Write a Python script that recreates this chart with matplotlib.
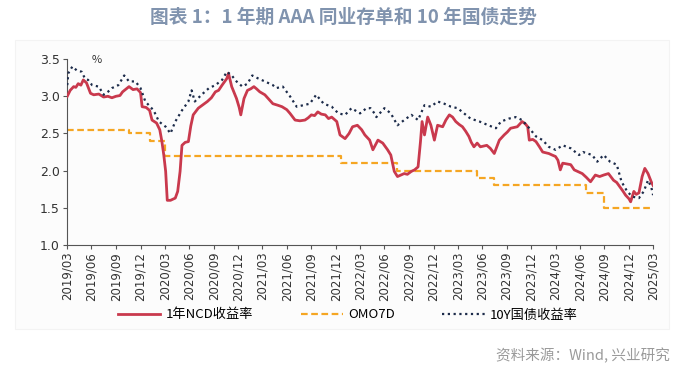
import matplotlib
matplotlib.use("Agg")
import matplotlib.pyplot as plt
import matplotlib.patches as patches
import pandas as pd

plt.rcParams['font.family'] = ['Noto Sans CJK SC', 'DejaVu Sans']

# 1Y AAA NCD yield (%)
ncd_dates = [
    "2019-04-01", "2019-04-12", "2019-04-25", "2019-05-03", "2019-05-12", "2019-05-22", "2019-05-31",
    "2019-06-12", "2019-06-27", "2019-07-09", "2019-07-28", "2019-08-15", "2019-08-31", "2019-09-15",
    "2019-09-30", "2019-10-15", "2019-10-25", "2019-11-08", "2019-11-18", "2019-12-03", "2019-12-18",
    "2019-12-31", "2020-01-06", "2020-01-21", "2020-02-03", "2020-02-12", "2020-02-29", "2020-03-12",
    "2020-03-20", "2020-03-27", "2020-04-03", "2020-04-09", "2020-04-21", "2020-05-09", "2020-05-18",
    "2020-05-27", "2020-06-03", "2020-06-15", "2020-06-27", "2020-07-06", "2020-07-15", "2020-08-03",
    "2020-08-18", "2020-09-06", "2020-09-21", "2020-10-06", "2020-10-18", "2020-10-31", "2020-11-18",
    "2020-11-24", "2020-12-06", "2020-12-24", "2021-01-03", "2021-01-09", "2021-01-21", "2021-02-03",
    "2021-02-15", "2021-02-27", "2021-03-09", "2021-03-21", "2021-04-09", "2021-04-24", "2021-05-09",
    "2021-05-27", "2021-06-12", "2021-06-21", "2021-06-30", "2021-07-12", "2021-07-31", "2021-08-18",
    "2021-09-06", "2021-09-18", "2021-09-30", "2021-10-12", "2021-10-24", "2021-11-06", "2021-11-21",
    "2021-12-03", "2021-12-15", "2022-01-03", "2022-01-15", "2022-02-03", "2022-02-18", "2022-03-03",
    "2022-03-21", "2022-04-06", "2022-04-18", "2022-05-06", "2022-05-18", "2022-06-06", "2022-06-24",
    "2022-07-12", "2022-07-24", "2022-08-06", "2022-08-18", "2022-08-31", "2022-09-12", "2022-09-24",
    "2022-10-09", "2022-10-21", "2022-11-03", "2022-11-12", "2022-11-18", "2022-11-27", "2022-12-09",
    "2022-12-21", "2023-01-03", "2023-01-15", "2023-02-03", "2023-02-15", "2023-02-28", "2023-03-12",
    "2023-03-24", "2023-04-06", "2023-04-18", "2023-04-30", "2023-05-12", "2023-05-21", "2023-05-31",
    "2023-06-12", "2023-06-24", "2023-07-06", "2023-07-18", "2023-07-31", "2023-08-15", "2023-09-03",
    "2023-09-21", "2023-10-03", "2023-10-15", "2023-10-27", "2023-11-09", "2023-11-27", "2023-12-09",
    "2023-12-18", "2023-12-24", "2024-01-06", "2024-01-18", "2024-01-31", "2024-02-12", "2024-02-24",
    "2024-03-06", "2024-03-18", "2024-03-31", "2024-04-09", "2024-04-18", "2024-04-27", "2024-05-12",
    "2024-05-27", "2024-06-09", "2024-06-21", "2024-07-09", "2024-07-24", "2024-08-09", "2024-08-27",
    "2024-09-12", "2024-09-27", "2024-10-15", "2024-11-03", "2024-11-15", "2024-11-27", "2024-12-09",
    "2024-12-18", "2024-12-31", "2025-01-06", "2025-01-18", "2025-01-27", "2025-02-06", "2025-02-18",
    "2025-02-28", "2025-03-12", "2025-03-24", "2025-03-31",
]
ncd_values = [
    3.00, 3.08, 3.13, 3.12, 3.17, 3.15, 3.22,
    3.18, 3.04, 3.02, 3.03, 2.99, 3.00, 2.98,
    3.00, 3.01, 3.06, 3.10, 3.13, 3.09, 3.10,
    3.05, 2.86, 2.85, 2.81, 2.68, 2.64, 2.55,
    2.39, 2.21, 1.99, 1.60, 1.60, 1.63, 1.72,
    1.99, 2.34, 2.38, 2.39, 2.60, 2.75, 2.84,
    2.88, 2.93, 2.98, 3.06, 3.08, 3.15, 3.24,
    3.31, 3.13, 2.97, 2.85, 2.75, 2.97, 3.08,
    3.10, 3.13, 3.10, 3.06, 3.02, 2.96, 2.90,
    2.88, 2.86, 2.84, 2.82, 2.77, 2.68, 2.67,
    2.68, 2.71, 2.75, 2.74, 2.79, 2.76, 2.75,
    2.70, 2.72, 2.66, 2.48, 2.43, 2.50, 2.59,
    2.61, 2.55, 2.48, 2.41, 2.28, 2.41, 2.37,
    2.28, 2.21, 1.99, 1.92, 1.94, 1.96, 1.95,
    1.99, 2.01, 2.05, 2.39, 2.66, 2.48, 2.72,
    2.61, 2.41, 2.61, 2.59, 2.68, 2.75, 2.72,
    2.66, 2.62, 2.59, 2.53, 2.46, 2.38, 2.32,
    2.37, 2.32, 2.33, 2.34, 2.30, 2.23, 2.41,
    2.48, 2.52, 2.57, 2.58, 2.59, 2.66, 2.63,
    2.59, 2.41, 2.42, 2.39, 2.32, 2.25, 2.24,
    2.23, 2.21, 2.19, 2.14, 2.01, 2.10, 2.09,
    2.08, 2.01, 1.99, 1.96, 1.91, 1.85, 1.94,
    1.92, 1.94, 1.96, 1.87, 1.84, 1.78, 1.72,
    1.67, 1.62, 1.58, 1.72, 1.68, 1.70, 1.92,
    2.03, 1.96, 1.85, 1.80,
]

# OMO 7D rate (%), values change on these dates
omo_dates = [
    "2019-04-01", "2019-11-18", "2020-02-03", "2020-03-30", "2022-01-17",
    "2022-08-15", "2023-06-13", "2023-08-15", "2024-07-22", "2024-09-27", "2025-03-31",
]
omo_values = [2.55, 2.50, 2.40, 2.20, 2.10, 2.00, 1.90, 1.80, 1.70, 1.50, 1.50]

# 10Y government bond yield (%)
tb_dates = [
    "2019-04-01", "2019-04-05", "2019-04-20", "2019-05-06", "2019-05-25", "2019-06-06", "2019-06-18",
    "2019-07-03", "2019-07-28", "2019-08-15", "2019-08-31", "2019-09-15", "2019-10-09", "2019-10-31",
    "2019-11-18", "2019-12-12", "2019-12-31", "2020-01-18", "2020-02-18", "2020-03-09", "2020-04-03",
    "2020-04-21", "2020-05-09", "2020-06-03", "2020-06-27", "2020-07-09", "2020-07-21", "2020-08-15",
    "2020-09-12", "2020-10-06", "2020-10-31", "2020-11-18", "2020-12-06", "2020-12-24", "2021-01-15",
    "2021-02-03", "2021-02-21", "2021-03-15", "2021-04-09", "2021-05-09", "2021-05-21", "2021-06-15",
    "2021-07-12", "2021-08-06", "2021-08-31", "2021-09-24", "2021-10-18", "2021-11-15", "2021-12-15",
    "2022-01-09", "2022-02-03", "2022-02-27", "2022-03-31", "2022-04-24", "2022-05-09", "2022-05-24",
    "2022-05-31", "2022-06-30", "2022-07-24", "2022-08-18", "2022-09-12", "2022-10-09", "2022-11-03",
    "2022-11-27", "2022-12-21", "2023-01-15", "2023-02-09", "2023-03-06", "2023-03-31", "2023-04-24",
    "2023-05-18", "2023-06-21", "2023-07-24", "2023-08-21", "2023-09-09", "2023-10-09", "2023-11-03",
    "2023-11-27", "2023-12-24", "2024-01-18", "2024-02-12", "2024-03-06", "2024-03-31", "2024-04-27",
    "2024-05-27", "2024-06-27", "2024-07-12", "2024-08-15", "2024-09-03", "2024-09-27", "2024-10-21",
    "2024-11-15", "2024-12-03", "2024-12-24", "2025-01-12", "2025-02-06", "2025-02-24", "2025-03-12",
    "2025-03-24", "2025-03-31",
]
tb_values = [
    3.15, 3.31, 3.40, 3.35, 3.33, 3.24, 3.22,
    3.15, 3.13, 3.02, 3.06, 3.11, 3.15, 3.28,
    3.20, 3.20, 3.11, 2.93, 2.81, 2.66, 2.59,
    2.50, 2.66, 2.81, 2.93, 3.08, 2.93, 3.02,
    3.11, 3.15, 3.22, 3.33, 3.28, 3.20, 3.13,
    3.17, 3.28, 3.24, 3.20, 3.15, 3.11, 3.13,
    3.00, 2.86, 2.88, 2.90, 3.02, 2.90, 2.86,
    2.77, 2.75, 2.84, 2.77, 2.84, 2.84, 2.77,
    2.72, 2.84, 2.77, 2.61, 2.68, 2.75, 2.68,
    2.88, 2.86, 2.93, 2.90, 2.86, 2.84, 2.77,
    2.70, 2.66, 2.61, 2.57, 2.66, 2.70, 2.72,
    2.68, 2.57, 2.46, 2.41, 2.32, 2.28, 2.34,
    2.30, 2.21, 2.25, 2.21, 2.12, 2.21, 2.12,
    2.08, 1.85, 1.72, 1.65, 1.63, 1.72, 1.87,
    1.78, 1.67,
]

y_ticks = [1.0, 1.5, 2.0, 2.5, 3.0, 3.5]

ncd_x = pd.to_datetime(ncd_dates)
omo_x = pd.to_datetime(omo_dates)
tb_x = pd.to_datetime(tb_dates)

fig = plt.figure(figsize=(7, 3.65), dpi=100)
fig.patch.set_facecolor('white')

ax = fig.add_axes([0.0957, 0.329, 0.8373, 0.509])
ax.set_facecolor('none')

# faint panel behind the chart
panel = patches.Rectangle((0.022, 0.10), 0.933, 0.79, transform=fig.transFigure,
                          facecolor='#FCFCFC', edgecolor='#F3F3F3', linewidth=0.8, zorder=-10)
fig.patches.append(panel)

ax.plot(ncd_x, ncd_values, color='#C9394D', linewidth=2.0, label='1年NCD收益率', zorder=3)
ax.plot(omo_x, omo_values, color='#F5A623', linewidth=1.6, linestyle=(0, (3, 1.6)),
        drawstyle='steps-post', label='OMO7D', zorder=2)
ax.plot(tb_x, tb_values, color='#1C2B4A', linewidth=1.6, linestyle=(0, (1, 1.6)),
        label='10Y国债收益率', zorder=4)

ax.set_ylim(1.0, 3.5)
ax.set_yticks(y_ticks)
ax.set_yticklabels([f'{v:.1f}' for v in y_ticks], fontsize=9, color='#333333',
                   family='DejaVu Sans')

x_ticks = pd.date_range('2019-03-31', '2025-03-31', freq=pd.offsets.QuarterEnd(startingMonth=3))
ax.set_xlim(x_ticks[0], x_ticks[-1])
ax.set_xticks(x_ticks)
ax.set_xticklabels([d.strftime('%Y/%m') for d in x_ticks], rotation=90, fontsize=8.5,
                   color='#333333', family='DejaVu Sans')

ax.spines['top'].set_visible(False)
ax.spines['right'].set_visible(False)
ax.spines['left'].set_color('#555555')
ax.spines['bottom'].set_color('#555555')
ax.tick_params(axis='both', direction='out', length=3, width=0.8, colors='#555555',
               labelcolor='#333333', pad=2)

ax.text(0.05, 0.995, '%', transform=ax.transAxes, ha='center', va='center',
        fontsize=8, color='#333333')

fig.text(0.49, 0.953, '图表 1：1 年期 AAA 同业存单和 10 年国债走势', ha='center', va='center',
         fontsize=13.5, fontweight='bold', color='#8093AE')

fig.legend(loc='center', bbox_to_anchor=(0.497, 0.137), ncol=3, frameon=False,
           fontsize=9.5, handlelength=3.2, columnspacing=3.6, handletextpad=0.4)

fig.text(0.957, 0.027, '资料来源：Wind, 兴业研究', ha='right', va='center',
         fontsize=10.5, color='#9A9A9A')

fig.savefig('out.png', dpi=100, facecolor='white')
